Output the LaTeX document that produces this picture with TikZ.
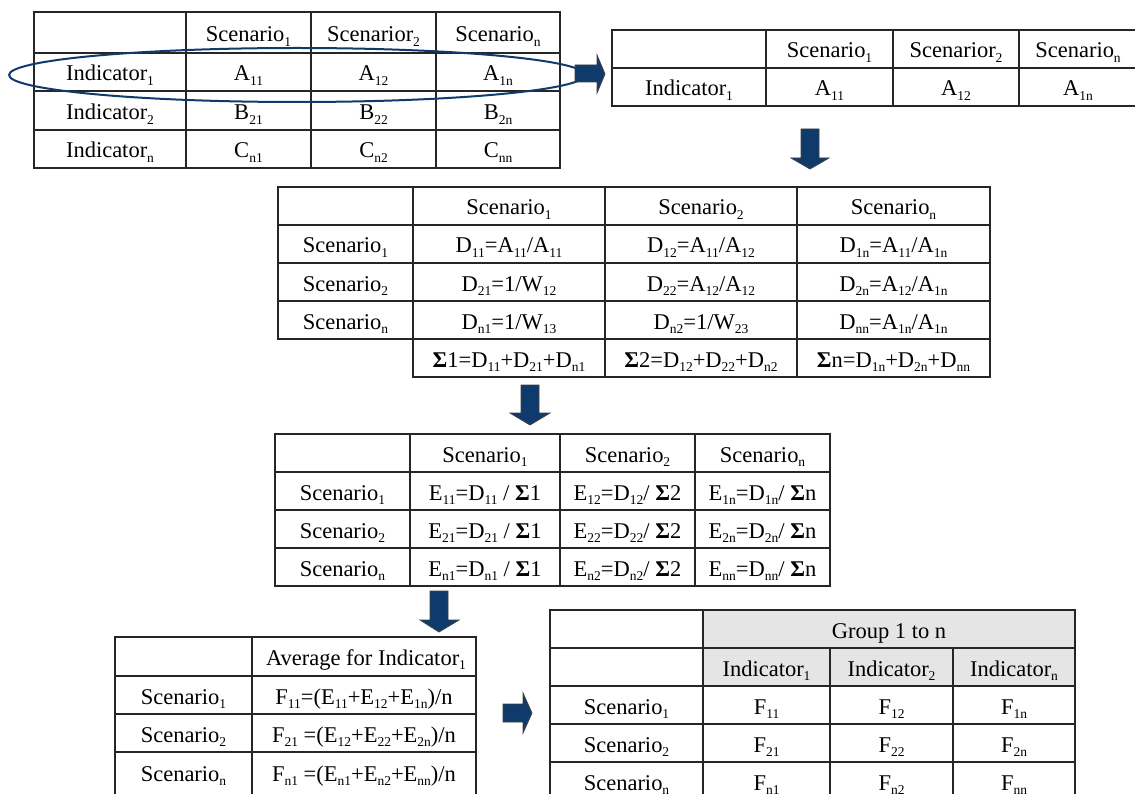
\documentclass[tikz,border=0pt]{standalone}
\usepackage{fontspec}
\setmainfont{Liberation Serif}
% lowered small index, as in "Scenario_1"
\newcommand\lo[1]{\raisebox{-4.8pt}{\fontsize{13.5}{13.5}\selectfont #1}}
\newcommand\sig{\textbf{Σ}}
\definecolor{navy}{RGB}{14,59,107}
\definecolor{headgray}{RGB}{229,229,229}
\begin{document}
\begin{tikzpicture}[x=1pt,y=-1pt,
  grid/.style={line width=1.5pt, draw=black!85},
  cell/.style={anchor=base, inner sep=0pt, font=\fontsize{22.5}{26}\selectfont},
  blockarrow/.style={fill=navy, draw=black!75, line width=0.8pt, line join=miter},
  ring/.style={draw=navy, line width=2pt}]
\useasboundingbox (0,0) rectangle (1135,794);
\clip (0,0) rectangle (1135,794);

% ---------- table 1: indicators by scenario ----------
\draw[grid] (34,12) rectangle (560,168);
\foreach \y in {53,91,130} \draw[grid] (34,\y) -- (560,\y);
\foreach \x in {186,311,436} \draw[grid] (\x,12) -- (\x,168);
\node[cell] (a01) at (248.5,42) {Scenario\lo{1}};
\node[cell] (a02) at (373.5,42) {Scenarior\lo{2}};
\node[cell] (a03) at (498,42) {Scenario\lo{n}};
\node[cell] (a10) at (110,81) {Indicator\lo{1}};
\node[cell] (a11) at (248.5,81) {A\lo{11}};
\node[cell] (a12) at (373.5,81) {A\lo{12}};
\node[cell] (a13) at (498,81) {A\lo{1n}};
\node[cell] (a20) at (110,120) {Indicator\lo{2}};
\node[cell] (a21) at (248.5,120) {B\lo{21}};
\node[cell] (a22) at (373.5,120) {B\lo{22}};
\node[cell] (a23) at (498,120) {B\lo{2n}};
\node[cell] (a30) at (110,158) {Indicator\lo{n}};
\node[cell] (a31) at (248.5,158) {C\lo{n1}};
\node[cell] (a32) at (373.5,158) {C\lo{n2}};
\node[cell] (a33) at (498,158) {C\lo{nn}};

% ---------- table 2: the selected indicator ----------
\draw[grid] (612,30) rectangle (1138,106);
\draw[grid] (612,68) -- (1138,68);
\foreach \x in {766,893,1019} \draw[grid] (\x,30) -- (\x,106);
\node[cell] (b01) at (829.5,58) {Scenario\lo{1}};
\node[cell] (b02) at (956,58) {Scenarior\lo{2}};
\node[cell] (b03) at (1078,58) {Scenario\lo{n}};
\node[cell] (b10) at (689,96) {Indicator\lo{1}};
\node[cell] (b11) at (829.5,96) {A\lo{11}};
\node[cell] (b12) at (956,96) {A\lo{12}};
\node[cell] (b13) at (1078,96) {A\lo{1n}};

% ---------- table 3: pairwise ratios and column sums ----------
\draw[grid] (278,187) rectangle (990,339);
\draw[grid] (413,339) rectangle (990,377);
\foreach \y in {225,263,301} \draw[grid] (278,\y) -- (990,\y);
\foreach \x in {605,797} \draw[grid] (\x,187) -- (\x,377);
\draw[grid] (413,187) -- (413,377);
\node[cell] (c01) at (509,215) {Scenario\lo{1}};
\node[cell] (c02) at (701,215) {Scenario\lo{2}};
\node[cell] (c03) at (893.5,215) {Scenario\lo{n}};
\node[cell] (c10) at (345.5,253) {Scenario\lo{1}};
\node[cell] (c11) at (509,253) {D\lo{11}=A\lo{11}/A\lo{11}};
\node[cell] (c12) at (701,253) {D\lo{12}=A\lo{11}/A\lo{12}};
\node[cell] (c13) at (893.5,253) {D\lo{1n}=A\lo{11}/A\lo{1n}};
\node[cell] (c20) at (345.5,291) {Scenario\lo{2}};
\node[cell] (c21) at (509,291) {D\lo{21}=1/W\lo{12}};
\node[cell] (c22) at (701,291) {D\lo{22}=A\lo{12}/A\lo{12}};
\node[cell] (c23) at (893.5,291) {D\lo{2n}=A\lo{12}/A\lo{1n}};
\node[cell] (c30) at (345.5,329) {Scenario\lo{n}};
\node[cell] (c31) at (509,329) {D\lo{n1}=1/W\lo{13}};
\node[cell] (c32) at (701,329) {D\lo{n2}=1/W\lo{23}};
\node[cell] (c33) at (893.5,329) {D\lo{nn}=A\lo{1n}/A\lo{1n}};
\node[cell] (c41) at (509,367) {\sig1=D\lo{11}+D\lo{21}+D\lo{n1}};
\node[cell] (c42) at (701,367) {\sig2=D\lo{12}+D\lo{22}+D\lo{n2}};
\node[cell] (c43) at (893.5,367) {\sig n=D\lo{1n}+D\lo{2n}+D\lo{nn}};

% ---------- table 4: normalised values ----------
\draw[grid] (275,434) rectangle (830,586);
\foreach \y in {472,510,548} \draw[grid] (275,\y) -- (830,\y);
\foreach \x in {410,560,695} \draw[grid] (\x,434) -- (\x,586);
\node[cell] (d01) at (485,462) {Scenario\lo{1}};
\node[cell] (d02) at (627.5,462) {Scenario\lo{2}};
\node[cell] (d03) at (762.5,462) {Scenario\lo{n}};
\node[cell] (d10) at (342.5,500) {Scenario\lo{1}};
\node[cell] (d11) at (485,500) {E\lo{11}=D\lo{11} / \sig1};
\node[cell] (d12) at (627.5,500) {E\lo{12}=D\lo{12}/ \sig2};
\node[cell] (d13) at (762.5,500) {E\lo{1n}=D\lo{1n}/ \sig n};
\node[cell] (d20) at (342.5,538) {Scenario\lo{2}};
\node[cell] (d21) at (485,538) {E\lo{21}=D\lo{21} / \sig1};
\node[cell] (d22) at (627.5,538) {E\lo{22}=D\lo{22}/ \sig2};
\node[cell] (d23) at (762.5,538) {E\lo{2n}=D\lo{2n}/ \sig n};
\node[cell] (d30) at (342.5,576) {Scenario\lo{n}};
\node[cell] (d31) at (485,576) {E\lo{n1}=D\lo{n1} / \sig1};
\node[cell] (d32) at (627.5,576) {E\lo{n2}=D\lo{n2}/ \sig2};
\node[cell] (d33) at (762.5,576) {E\lo{nn}=D\lo{nn}/ \sig n};

% ---------- table 5: average for one indicator ----------
\draw[grid] (115,800) -- (115,637) -- (476,637) -- (476,800);
\foreach \y in {676,714,752} \draw[grid] (115,\y) -- (476,\y);
\draw[grid] (252,637) -- (252,800);
\node[cell] (e01) at (366,665) {Average for Indicator\lo{1}};
\node[cell] (e10) at (183.5,704) {Scenario\lo{1}};
\node[cell] (e11) at (364,704) {F\lo{11}=(E\lo{11}+E\lo{12}+E\lo{1n})/n};
\node[cell] (e20) at (183.5,742) {Scenario\lo{2}};
\node[cell] (e21) at (364,742) {F\lo{21} =(E\lo{12}+E\lo{22}+E\lo{2n})/n};
\node[cell] (e30) at (183.5,781) {Scenario\lo{n}};
\node[cell] (e31) at (364,781) {F\lo{n1} =(E\lo{n1}+E\lo{n2}+E\lo{nn})/n};

% ---------- table 6: all indicators of the group ----------
\fill[headgray] (703,610) rectangle (1075,686);
\draw[grid] (550,800) -- (550,610) -- (1075,610) -- (1075,800);
\foreach \y in {648,686,724,762} \draw[grid] (550,\y) -- (1075,\y);
\draw[grid] (703,610) -- (703,800);
\foreach \x in {830,953} \draw[grid] (\x,648) -- (\x,800);
\node[cell] (f00) at (889,638) {Group 1 to n};
\node[cell] (f01) at (766.5,676) {Indicator\lo{1}};
\node[cell] (f02) at (891.5,676) {Indicator\lo{2}};
\node[cell] (f03) at (1014,676) {Indicator\lo{n}};
\node[cell] (f10) at (626.5,714) {Scenario\lo{1}};
\node[cell] (f11) at (766.5,714) {F\lo{11}};
\node[cell] (f12) at (891.5,714) {F\lo{12}};
\node[cell] (f13) at (1014,714) {F\lo{1n}};
\node[cell] (f20) at (626.5,752) {Scenario\lo{2}};
\node[cell] (f21) at (766.5,752) {F\lo{21}};
\node[cell] (f22) at (891.5,752) {F\lo{22}};
\node[cell] (f23) at (1014,752) {F\lo{2n}};
\node[cell] (f30) at (626.5,790) {Scenario\lo{n}};
\node[cell] (f31) at (766.5,790) {F\lo{n1}};
\node[cell] (f32) at (891.5,790) {F\lo{n2}};
\node[cell] (f33) at (1014,790) {F\lo{nn}};

% ---------- ring round the first indicator row ----------
\draw[ring] (297,75) ellipse [x radius=288pt, y radius=27pt];

% ---------- block arrows between the steps ----------
\draw[blockarrow] (575,65) -- (597,65) -- (597,55) -- (605,74) -- (597,93) -- (597,82) -- (575,82) -- cycle;
\draw[blockarrow] (801,129) -- (819,129) -- (819,158) -- (829,158) -- (810,169) -- (791,158) -- (801,158) -- cycle;
\draw[blockarrow] (521,385) -- (539,385) -- (539,413) -- (550,413) -- (530,425) -- (510,413) -- (521,413) -- cycle;
\draw[blockarrow] (430,591) -- (448,591) -- (448,620) -- (459,620) -- (439,632) -- (420,620) -- (430,620) -- cycle;
\draw[blockarrow] (503,704) -- (523,704) -- (523,693) -- (532,713) -- (523,733) -- (523,722) -- (503,722) -- cycle;
\end{tikzpicture}
\end{document}
